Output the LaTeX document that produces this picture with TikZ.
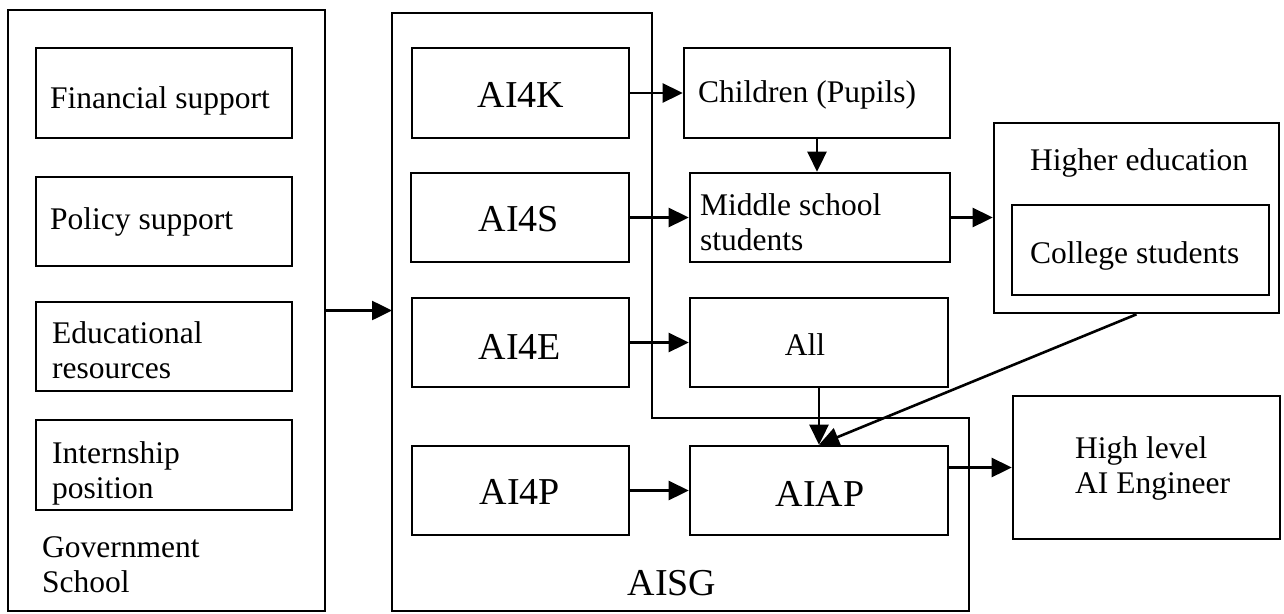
\documentclass[tikz,border=0pt]{standalone}
\usepackage{fontspec}
\setmainfont{Liberation Serif}
\usetikzlibrary{arrows.meta}
\tikzset{
  box/.style={draw, line width=2.6pt, inner sep=0pt},
  sm/.style={font=\fontsize{31.5}{35}\selectfont, inner sep=0pt, align=left, anchor=west},
  big/.style={font=\fontsize{38}{42}\selectfont, inner sep=0pt},
  arr/.style={line width=2.6pt, -{Triangle[length=20pt,width=19pt]}},
}
\newcommand{\bx}[5]{\node[box, minimum width={#4-#2}, minimum height={#5-#3}] (#1) at ({(#2+#4)/2},{(#3+#5)/2}) {};}
\begin{document}
\begin{tikzpicture}[x=1pt,y=-1pt]
\useasboundingbox (0,0) rectangle (1284,613);
% Government box
\bx{gov}{8}{10}{325}{611}
\bx{fin}{36}{48}{292}{138}
\bx{pol}{36}{177}{292}{266}
\bx{edu}{36}{302}{292}{391}
\bx{intern}{36}{420}{292}{510}
\node[sm] (fint) at (50,101) {Financial support};
\node[sm] (polt) at (50,222) {Policy support};
\node[sm] (edut) at (52,350) {Educational\\resources};
\node[sm] (intt) at (52,473) {Internship\\position};
\node[sm] (govt) at (42,565) {Government\\School};
% AISG container
\draw[line width=2.6pt] (392,13) -- (652,13) -- (652,418) -- (969,418) -- (969,611) -- (392,611) -- cycle;
\coordinate (aisgL) at (392,310.5);
\node[big] (aisgt) at (672,583) {AISG};
\bx{k}{412}{48}{629}{138}
\bx{s}{411}{173}{629}{262}
\bx{e}{412}{298}{629}{387}
\bx{p}{412}{446}{629}{535}
\node[big] (kt) at (521,95) {AI4K};
\node[big] (st) at (519,219) {AI4S};
\node[big] (et) at (520,347) {AI4E};
\node[big] (pt) at (520,492) {AI4P};
% target boxes
\bx{ch}{684}{48}{950}{138}
\bx{mid}{690}{173}{950}{262}
\bx{all}{690}{298}{948}{387}
\bx{aiap}{690}{446}{948}{535}
\node[sm] (cht) at (698,95) {Children (Pupils)};
\node[sm] (midt) at (700,222) {Middle school\\students};
\node[sm, anchor=center] (allt) at (805,345) {All};
\node[big] (aiapt) at (820,494) {AIAP};
\bx{he}{994}{123}{1279}{313}
\bx{col}{1012}{205}{1269}{295}
\node[sm] (het) at (1030,163) {Higher education};
\node[sm] (colt) at (1030,256) {College students};
\bx{hl}{1013}{396}{1280}{539}
\node[sm] (hlt) at (1075,468) {High level\\AI Engineer};
% arrows
\draw[arr] (gov.east |- aisgL) -- (aisgL);
\draw[arr] (k.east) -- (ch.west |- k.east);
\draw[arr] (ch.south) -- (ch.south |- mid.north);
\draw[arr] (s.east) -- (mid.west |- s.east);
\draw[arr] (mid.east) -- (he.west |- mid.east);
\draw[arr] (e.east) -- (all.west |- e.east);
\draw[arr] (all.south) -- (aiap.north);
\draw[arr] (he.south) -- (aiap.north);
\draw[arr] (p.east) -- (aiap.west);
\draw[arr] (aiap.east |- hl.west) -- (hl.west);
\end{tikzpicture}
\end{document}
